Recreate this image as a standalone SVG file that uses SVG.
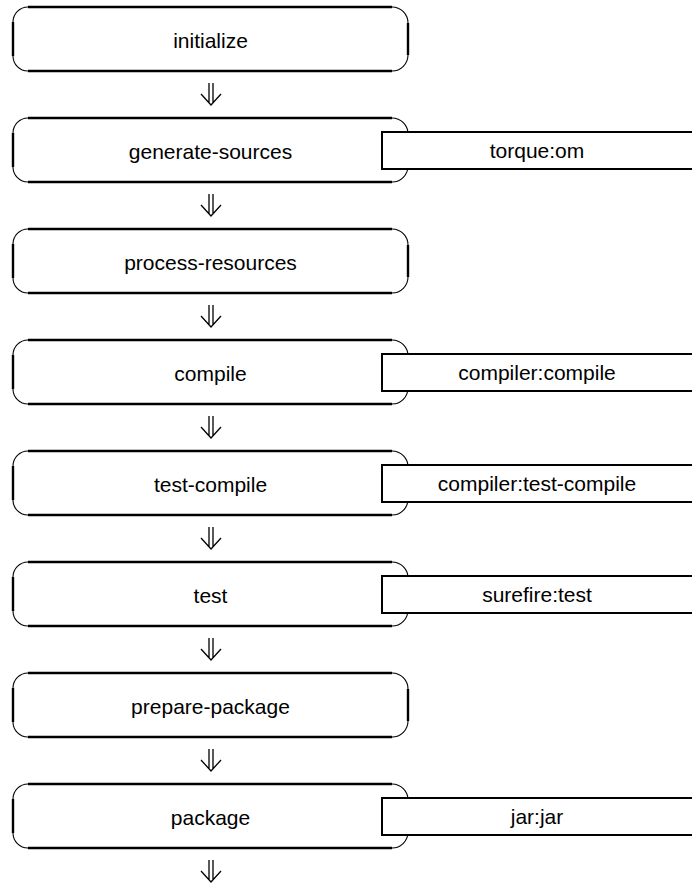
<svg xmlns="http://www.w3.org/2000/svg" xmlns:xlink="http://www.w3.org/1999/xlink" width="692" height="892" viewBox="0 0 692 892">
  <style>
    .edge { fill: none; stroke: #000; stroke-width: 2.4; }
    .corner { fill: none; stroke: #000; stroke-width: 1.1; }
    .goal { fill: #fff; stroke: #000; stroke-width: 2; }
    .label { font-family: "Liberation Sans", Arial, sans-serif; font-size: 21px; fill: #000; text-anchor: middle; }
    .arrow { fill: none; stroke: #000; stroke-width: 1.3; }
  </style>
  <defs>
    <!-- phase box: heavy straight sides, light rounded corners -->
    <g id="phase-box">
      <rect x="0" y="0" width="395" height="64" rx="15" fill="#fff" stroke="none"/>
      <path class="edge" d="M15,0 H379 M15,64 H379 M0,15 V49 M395,16 V48"/>
      <path class="corner" d="M15,0 A15,15 0 0 0 0,15 M0,49 A15,15 0 0 0 15,64 M379,0 A16,16 0 0 1 395,16 M395,48 A16,16 0 0 1 379,64"/>
    </g>
    <!-- double-shafted down arrow -->
    <g id="step-arrow">
      <path class="arrow" d="M209,0 V20 M213,0 V20 M201,11 L211,22 L221,11"/>
    </g>
  </defs>

  <g id="connectors">
    <use xlink:href="#step-arrow" y="83"/>
    <use xlink:href="#step-arrow" y="194"/>
    <use xlink:href="#step-arrow" y="305"/>
    <use xlink:href="#step-arrow" y="416"/>
    <use xlink:href="#step-arrow" y="527"/>
    <use xlink:href="#step-arrow" y="638"/>
    <use xlink:href="#step-arrow" y="749"/>
    <use xlink:href="#step-arrow" y="860"/>
  </g>

  <g id="initialize">
    <use xlink:href="#phase-box" x="13" y="7"/>
    <text class="label" x="210.5" y="48">initialize</text>
  </g>

  <g id="generate-sources">
    <use xlink:href="#phase-box" x="13" y="118"/>
    <text class="label" x="210.5" y="159">generate-sources</text>
  </g>
  <g id="torque-om">
    <rect class="goal" x="382" y="132" width="320" height="37"/>
    <text class="label" x="537" y="158">torque:om</text>
  </g>

  <g id="process-resources">
    <use xlink:href="#phase-box" x="13" y="229"/>
    <text class="label" x="210.5" y="270">process-resources</text>
  </g>

  <g id="compile">
    <use xlink:href="#phase-box" x="13" y="340"/>
    <text class="label" x="210.5" y="381">compile</text>
  </g>
  <g id="compiler-compile">
    <rect class="goal" x="382" y="354" width="320" height="37"/>
    <text class="label" x="537" y="380">compiler:compile</text>
  </g>

  <g id="test-compile">
    <use xlink:href="#phase-box" x="13" y="451"/>
    <text class="label" x="210.5" y="492">test-compile</text>
  </g>
  <g id="compiler-test-compile">
    <rect class="goal" x="382" y="465" width="320" height="37"/>
    <text class="label" x="537" y="491">compiler:test-compile</text>
  </g>

  <g id="test">
    <use xlink:href="#phase-box" x="13" y="562"/>
    <text class="label" x="210.5" y="603">test</text>
  </g>
  <g id="surefire-test">
    <rect class="goal" x="382" y="576" width="320" height="37"/>
    <text class="label" x="537" y="602">surefire:test</text>
  </g>

  <g id="prepare-package">
    <use xlink:href="#phase-box" x="13" y="673"/>
    <text class="label" x="210.5" y="714">prepare-package</text>
  </g>

  <g id="package">
    <use xlink:href="#phase-box" x="13" y="784"/>
    <text class="label" x="210.5" y="825">package</text>
  </g>
  <g id="jar-jar">
    <rect class="goal" x="382" y="798" width="320" height="37"/>
    <text class="label" x="537" y="824">jar:jar</text>
  </g>
</svg>
